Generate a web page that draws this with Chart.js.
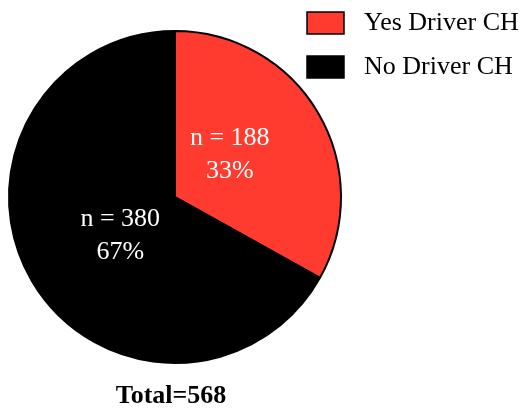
<!DOCTYPE html>
<html>
<head>
<meta charset="utf-8">
<script src="https://cdn.jsdelivr.net/npm/chart.js@4"></script>
<style>
  html, body { margin: 0; padding: 0; background: #fff; }
  #wrap { width: 525px; height: 417px; position: relative; }
</style>
</head>
<body>
<div id="wrap"><canvas id="c" width="525" height="417"></canvas></div>
<script>
const categories = ["Yes Driver CH", "No Driver CH"];
const counts = [188, 380];
const percentLabels = ["33%", "67%"];
const colors = ["#FF3B30", "#000000"];

const FONT = "'Liberation Serif', 'Times New Roman', serif";

const overlay = {
  id: 'overlay',
  afterDraw(chart) {
    const ctx = chart.ctx;
    const meta = chart.getDatasetMeta(0);
    ctx.save();
    // slice labels
    ctx.fillStyle = '#ffffff';
    ctx.font = '26px ' + FONT;
    ctx.textAlign = 'center';
    ctx.textBaseline = 'middle';
    meta.data.forEach((arc, i) => {
      const p = arc.getProps(['x', 'y', 'startAngle', 'endAngle', 'outerRadius'], true);
      const mid = (p.startAngle + p.endAngle) / 2 - 6 * Math.PI / 180;
      const r = p.outerRadius * 0.41;
      const cx = p.x + Math.cos(mid) * r;
      const cy = p.y + Math.sin(mid) * r - 2.5;
      ctx.fillText('n = ' + counts[i], cx, cy - 16);
      ctx.fillText(percentLabels[i], cx, cy + 17);
    });
    // legend
    categories.forEach((name, i) => {
      const y0 = 12 + i * 44;
      ctx.fillStyle = colors[i];
      ctx.fillRect(307, y0, 37, 22);
      ctx.lineWidth = 1.5;
      ctx.strokeStyle = '#000';
      ctx.strokeRect(307, y0, 37, 22);
      ctx.fillStyle = '#000';
      ctx.textAlign = 'left';
      ctx.textBaseline = 'middle';
      ctx.font = '26px ' + FONT;
      ctx.fillText(name, 364, y0 + 11);
    });
    // total
    const total = counts.reduce((a, b) => a + b, 0);
    ctx.font = 'bold 26px ' + FONT;
    ctx.textAlign = 'center';
    ctx.textBaseline = 'middle';
    ctx.fillStyle = '#000';
    ctx.fillText('Total=' + total, 171, 396);
    ctx.restore();
  }
};

new Chart(document.getElementById('c'), {
  type: 'pie',
  data: {
    labels: categories,
    datasets: [{
      data: counts,
      backgroundColor: colors,
      borderColor: '#000000',
      borderWidth: 2
    }]
  },
  options: {
    responsive: false,
    animation: false,
    devicePixelRatio: 1,
    layout: { padding: { left: 8, top: 30, right: 183, bottom: 53 } },
    plugins: {
      legend: { display: false },
      tooltip: { enabled: false }
    }
  },
  plugins: [overlay]
});
</script>
</body>
</html>
